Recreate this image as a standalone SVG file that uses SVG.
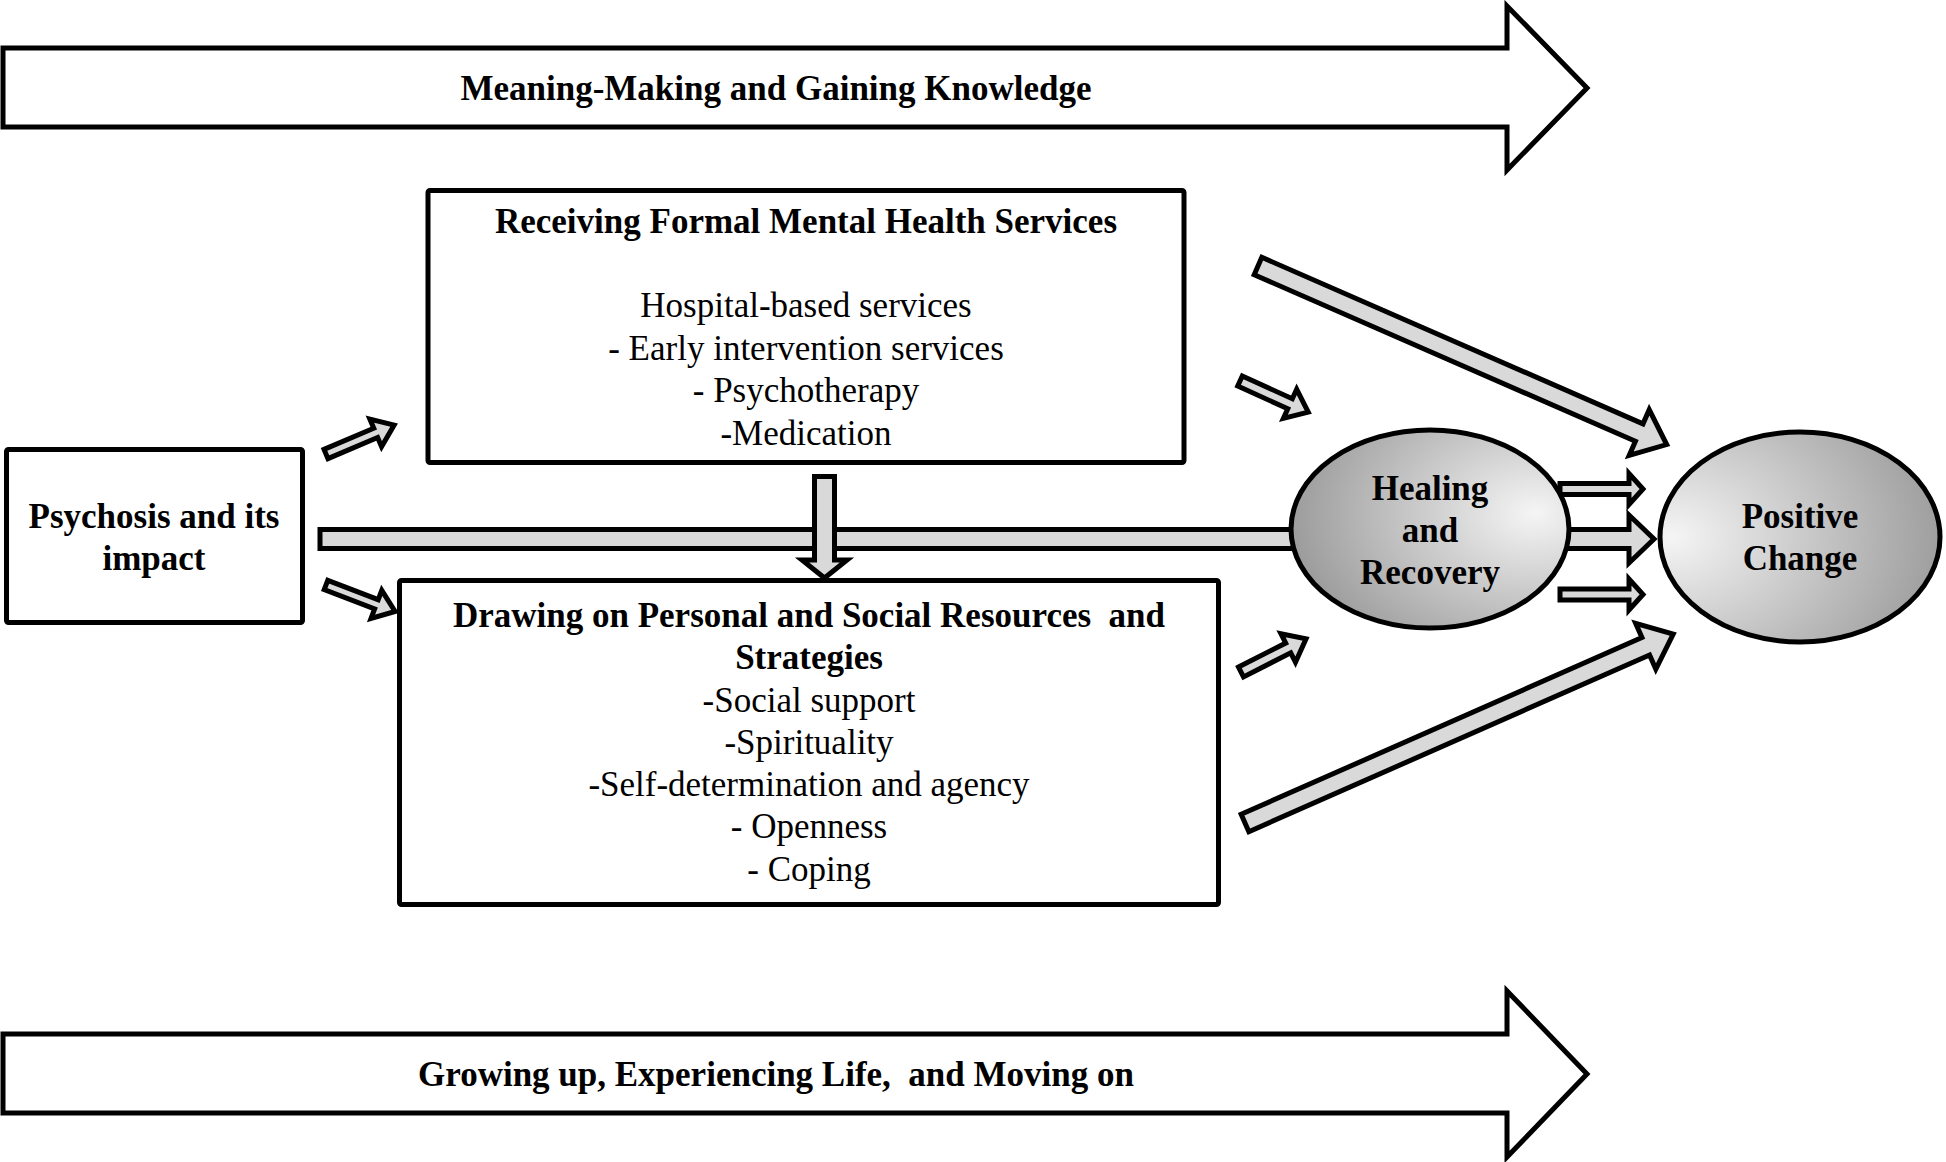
<svg xmlns="http://www.w3.org/2000/svg" width="1946" height="1162" viewBox="0 0 1946 1162">
<style>
.b{font-family:"Liberation Serif","Times New Roman",serif;font-weight:bold;font-size:35px;text-anchor:middle;fill:#000;white-space:pre}
.r{font-family:"Liberation Serif","Times New Roman",serif;font-size:35px;text-anchor:middle;fill:#000;white-space:pre}
.box{fill:#fff;stroke:#000;stroke-width:5}
.big{fill:#fff;stroke:#000;stroke-width:5;stroke-linejoin:miter}
.arr{fill:#d9d9d9;stroke:#000;stroke-width:5;stroke-linejoin:miter}
.ell{stroke:#000;stroke-width:5}
</style>
<defs>
<radialGradient id="gH" cx="0.82" cy="0.42" r="0.95" fx="0.88" fy="0.42">
<stop offset="0" stop-color="#f5f5f5"/>
<stop offset="1" stop-color="#8f8f8f"/>
</radialGradient>
<radialGradient id="gP" cx="0.08" cy="0.5" r="0.98" fx="0.04" fy="0.5">
<stop offset="0" stop-color="#f5f5f5"/>
<stop offset="1" stop-color="#999"/>
</radialGradient>
</defs>

<g id="meaning-making">
<polygon class="big" points="3,48 1507,48 1507,6 1587,88 1507,170 1507,127 3,127"/>
<text class="b" x="776" y="100">Meaning-Making and Gaining Knowledge</text>
</g>

<g id="growing-up">
<polygon class="big" points="3,1034 1507,1034 1507,991 1587,1074 1507,1157 1507,1113 3,1113"/>
<text class="b" x="776" y="1086">Growing up, Experiencing Life,  and Moving on</text>
</g>

<g id="psychosis">
<rect class="box" x="6.5" y="449.5" width="296" height="173" rx="2"/>
<text class="b" x="154" y="528">Psychosis and its</text>
<text class="b" x="154" y="570">impact</text>
</g>

<g id="receiving-services">
<rect class="box" x="428" y="190.5" width="756" height="272" rx="2"/>
<text class="b" x="806" y="233">Receiving Formal Mental Health Services</text>
<text class="r" x="806" y="317">Hospital-based services</text>
<text class="r" x="806" y="360">- Early intervention services</text>
<text class="r" x="806" y="402">- Psychotherapy</text>
<text class="r" x="806" y="445">-Medication</text>
</g>

<g id="drawing-resources">
<rect class="box" x="399.5" y="580.5" width="819" height="324" rx="2"/>
<text class="b" x="809" y="627">Drawing on Personal and Social Resources  and</text>
<text class="b" x="809" y="669">Strategies</text>
<text class="r" x="809" y="712">-Social support</text>
<text class="r" x="809" y="754">-Spirituality</text>
<text class="r" x="809" y="796">-Self-determination and agency</text>
<text class="r" x="809" y="838">- Openness</text>
<text class="r" x="809" y="881">- Coping</text>
</g>

<g id="connectors">
<polygon class="arr" points="320,529.5 1629,529.5 1629,515 1654,539 1629,563 1629,548.5 320,548.5"/>
<polygon class="arr" points="814.5,476.5 834.5,476.5 834.5,560 847,560 824.5,578 802,560 814.5,560"/>
<polygon class="arr" transform="translate(326,454) rotate(-23)" points="0,-5 54,-5 54,-15 74,0 54,15 54,5 0,5"/>
<polygon class="arr" transform="translate(326,585) rotate(21)" points="0,-5 54,-5 54,-15 74,0 54,15 54,5 0,5"/>
<polygon class="arr" transform="translate(1240,381) rotate(24.5)" points="0,-5.5 55,-5.5 55,-16 75,0 55,16 55,5.5 0,5.5"/>
<polygon class="arr" transform="translate(1241,672) rotate(-27)" points="0,-5.5 53,-5.5 53,-16 73,0 53,16 53,5.5 0,5.5"/>
<polygon class="arr" transform="translate(1258,266) rotate(23.6)" points="0,-9.5 416,-9.5 416,-25 446,0 416,25 416,9.5 0,9.5"/>
<polygon class="arr" transform="translate(1245,823) rotate(-23.8)" points="0,-9.5 438,-9.5 438,-25 468,0 438,25 438,9.5 0,9.5"/>
<polygon class="arr" points="1560,483.5 1629,483.5 1629,473.5 1643,489 1629,504.5 1629,494.5 1560,494.5"/>
<polygon class="arr" points="1560,589 1629,589 1629,579 1643,594.5 1629,610 1629,600 1560,600"/>
</g>

<g id="healing-recovery">
<ellipse class="ell" cx="1430" cy="529" rx="139" ry="99" fill="url(#gH)"/>
<text class="b" x="1430" y="500">Healing</text>
<text class="b" x="1430" y="542">and</text>
<text class="b" x="1430" y="584">Recovery</text>
</g>

<g id="positive-change">
<ellipse class="ell" cx="1800" cy="537" rx="140" ry="105" fill="url(#gP)"/>
<text class="b" x="1800" y="528">Positive</text>
<text class="b" x="1800" y="570">Change</text>
</g>
</svg>
